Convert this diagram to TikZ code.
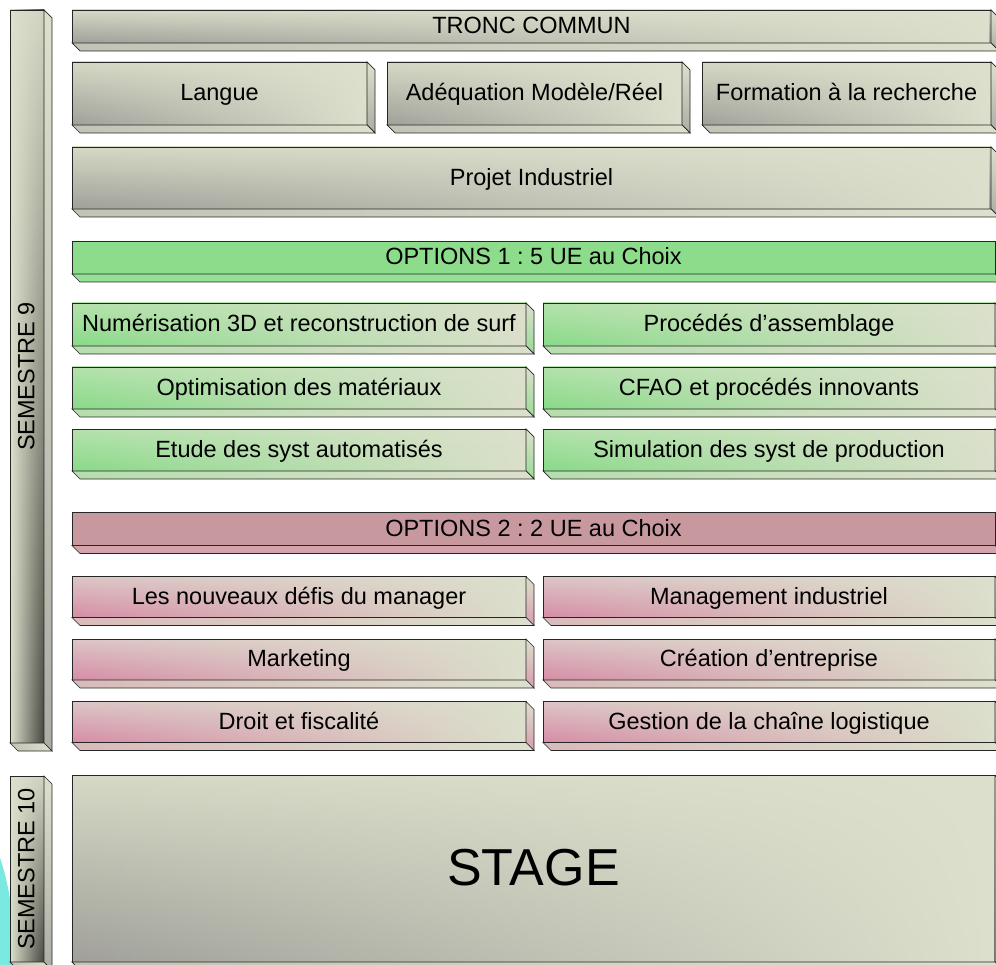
\documentclass[tikz,border=0pt]{standalone}
\usepackage{fontspec}
\setmainfont{Liberation Sans}
\usetikzlibrary{fadings}
\frenchspacing
\tikzfading[name=fadeR, left color=transparent!100, right color=transparent!0]
\tikzfading[name=fadeU, top color=transparent!8, bottom color=transparent!100]
\definecolor{edgec}{HTML}{262626}
\definecolor{gT}{HTML}{D6D9C5}
\definecolor{gB}{HTML}{A0A09A}
\definecolor{gR}{HTML}{DCE0CC}
\definecolor{grT}{HTML}{B4E2AC}
\definecolor{grB}{HTML}{88DA88}
\definecolor{grR}{HTML}{DCE0CC}
\definecolor{pT}{HTML}{DCC6C6}
\definecolor{pB}{HTML}{D68CA6}
\definecolor{pR}{HTML}{DCE0CC}
\definecolor{optG}{HTML}{8CDC8C}
\definecolor{optGb}{HTML}{94E094}
\definecolor{optP}{HTML}{C8989F}
\definecolor{optPb}{HTML}{D4A4AC}
\definecolor{semD}{HTML}{46463F}
\definecolor{cyanshape}{HTML}{7AEAE0}
\newcommand\boxfont{\fontsize{23.5}{28}\selectfont}
\newcommand\bevel[2]{%
  \path[draw=edgec, line width=0.7pt, top color=#2R, bottom color=#2B!80!#2R]
    (#1.north east) -- ++(8,8) -- ([shift={(8,8)}]#1.south east) -- (#1.south east) -- cycle;
  \path[draw=edgec, line width=0.7pt, left color=#2B!45!#2R, right color=#2R]
    (#1.south west) -- ++(8,8) -- ([shift={(8,8)}]#1.south east) -- (#1.south east) -- cycle;
}
\tikzset{
  txt/.style={font=\boxfont, text=black, text height=16.8pt, text depth=2pt},
  front/.style={rectangle, inner sep=0pt, outer sep=0pt, txt,
    shade, top color=#1T, bottom color=#1B,
    postaction={fill=#1R, path fading=fadeR},
    postaction={draw=edgec, line width=0.8pt}},
  flatbar/.style={rectangle, inner sep=0pt, outer sep=0pt, txt,
    fill=#1, draw=edgec, line width=0.8pt},
  sembar/.style={rectangle, inner sep=0pt, outer sep=0pt,
    shade, left color=gR, right color=semD,
    postaction={fill=gR, path fading=fadeU},
    postaction={draw=edgec, line width=0.8pt}},
}
\begin{document}
\begin{tikzpicture}[x=1pt, y=-1pt]
\useasboundingbox (0,0) rectangle (996,965);
\clip (0,0) rectangle (996,965);
\fill[white] (0,0) rectangle (996,965);
% cyan fragment
\fill[cyanshape] (0,858) .. controls (5,872) and (9,890) .. (12,912) -- (12,965) -- (0,965) -- cycle;

% semester bars
\node[sembar, minimum width=34pt, minimum height=733pt] (sem9) at (27,376.5) {};
\node[rotate=90, txt] (sem9t) at (sem9.center) {SEMESTRE 9};
\bevel{sem9}{g}
\node[sembar, minimum width=34pt, minimum height=186pt] (sem10) at (27,869) {};
\node[rotate=90, txt] (sem10t) at (sem10.center) {SEMESTRE 10};
\bevel{sem10}{g}

% tronc commun
\node[front=g, minimum width=919pt, minimum height=33pt] (tronc) at (531.5,26.5) {TRONC COMMUN};
\bevel{tronc}{g}
\node[front=g, minimum width=295pt, minimum height=63pt] (langue) at (219.5,93.5) {Langue};
\bevel{langue}{g}
\node[front=g, minimum width=295pt, minimum height=63pt] (adeq) at (534.5,93.5) {Adéquation Modèle/Réel};
\bevel{adeq}{g}
\node[front=g, minimum width=289pt, minimum height=63pt] (form) at (846.5,93.5) {Formation à la recherche};
\bevel{form}{g}
\node[front=g, minimum width=919pt, minimum height=62pt] (projet) at (531.5,178) {Projet Industriel};
\bevel{projet}{g}

% options 1
\node[flatbar=optG, minimum width=923pt, minimum height=33pt] (opt1) at (533.5,257.5) {OPTIONS 1 : 5 UE au Choix};
\path[draw=edgec, line width=0.7pt, fill=optGb]
  (opt1.south west) -- ++(8,8) -- ([shift={(8,8)}]opt1.south east) -- (opt1.south east) -- cycle;
\node[front=gr, minimum width=454pt, minimum height=43pt] (num) at (299,324.5) {Numérisation 3D et reconstruction de surf};
\bevel{num}{gr}
\node[front=gr, minimum width=452pt, minimum height=43pt] (proc) at (769,324.5) {Procédés d’assemblage};
\bevel{proc}{gr}
\node[front=gr, minimum width=454pt, minimum height=42pt] (optim) at (299,388) {Optimisation des matériaux};
\bevel{optim}{gr}
\node[front=gr, minimum width=452pt, minimum height=42pt] (cfao) at (769,388) {CFAO et procédés innovants};
\bevel{cfao}{gr}
\node[front=gr, minimum width=454pt, minimum height=42pt] (etude) at (299,450) {Etude des syst automatisés};
\bevel{etude}{gr}
\node[front=gr, minimum width=452pt, minimum height=42pt] (simu) at (769,450) {Simulation des syst de production};
\bevel{simu}{gr}

% options 2
\node[flatbar=optP, minimum width=923pt, minimum height=33pt] (opt2) at (533.5,529) {OPTIONS 2 : 2 UE au Choix};
\path[draw=edgec, line width=0.7pt, fill=optPb]
  (opt2.south west) -- ++(8,8) -- ([shift={(8,8)}]opt2.south east) -- (opt2.south east) -- cycle;
\node[front=p, minimum width=454pt, minimum height=41pt] (defis) at (299,597) {Les nouveaux défis du manager};
\bevel{defis}{p}
\node[front=p, minimum width=452pt, minimum height=41pt] (mgmt) at (769,597) {Management industriel};
\bevel{mgmt}{p}
\node[front=p, minimum width=454pt, minimum height=41pt] (mkt) at (299,659.5) {Marketing};
\bevel{mkt}{p}
\node[front=p, minimum width=452pt, minimum height=41pt] (crea) at (769,659.5) {Création d’entreprise};
\bevel{crea}{p}
\node[front=p, minimum width=454pt, minimum height=41pt] (droit) at (299,722) {Droit et fiscalité};
\bevel{droit}{p}
\node[front=p, minimum width=452pt, minimum height=41pt] (gest) at (769,722) {Gestion de la chaîne logistique};
\bevel{gest}{p}

% stage
\node[front=g, minimum width=923pt, minimum height=186.5pt, font=\fontsize{52}{60}\selectfont, text height=37pt, text depth=3pt] (stage) at (533.5,868.75) {STAGE};
\bevel{stage}{g}
\end{tikzpicture}
\end{document}
